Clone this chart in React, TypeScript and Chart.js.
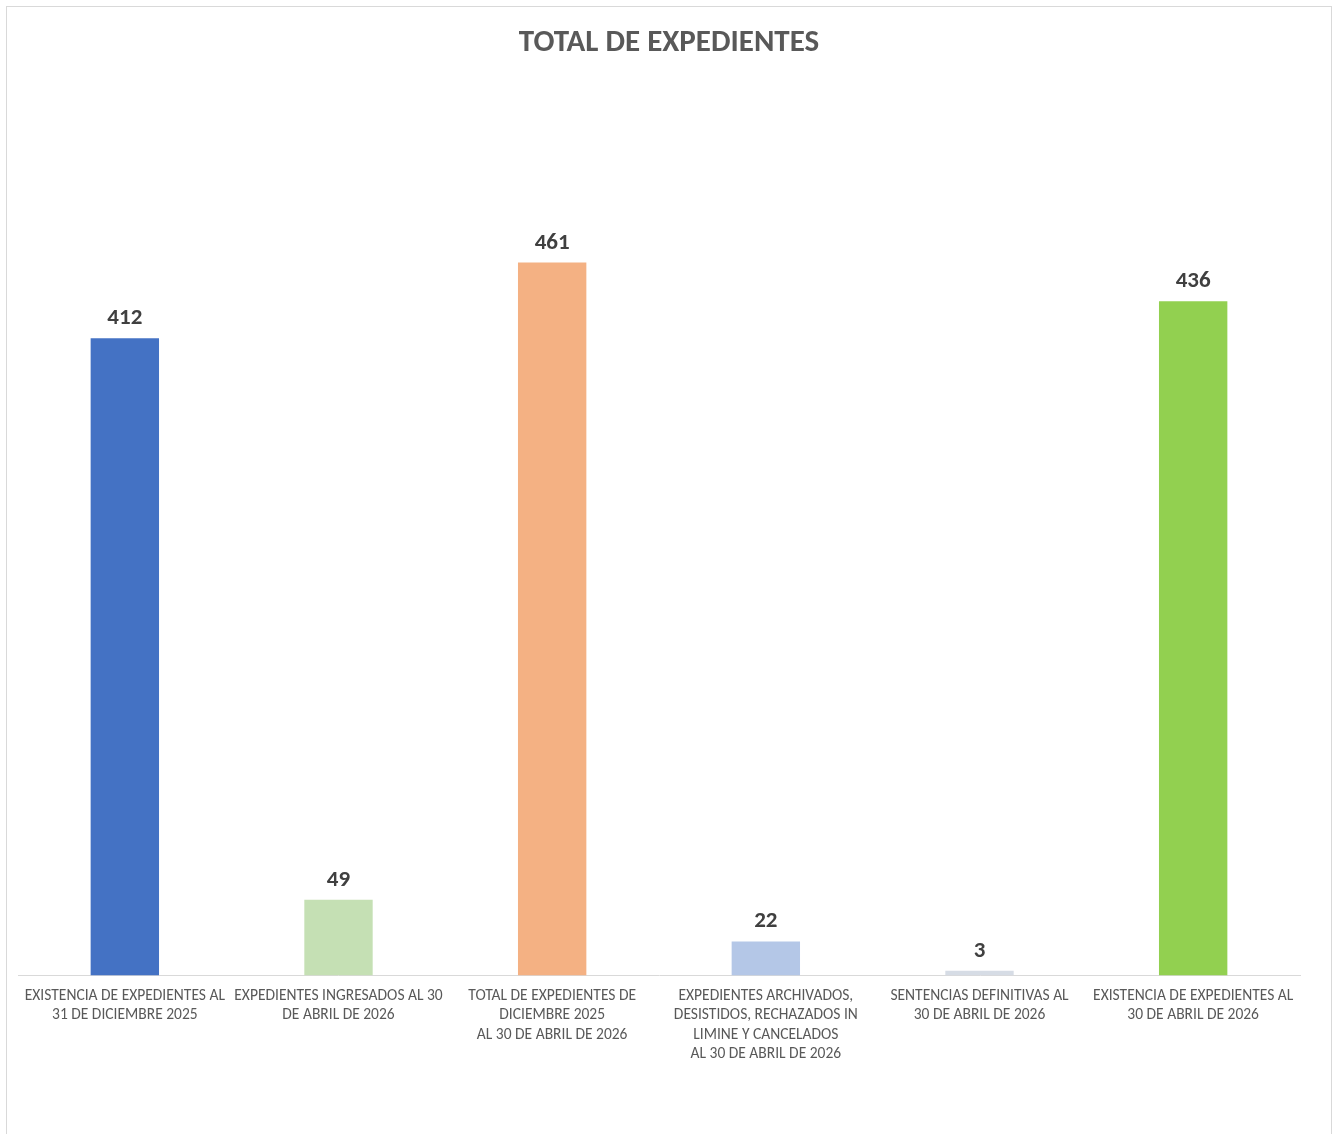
import React, { useEffect, useRef } from "react";
import { Chart, registerables } from "chart.js";

Chart.register(...registerables);

const categories: string[][] = [
  ["EXISTENCIA DE EXPEDIENTES AL", "31 DE DICIEMBRE 2025"],
  ["EXPEDIENTES INGRESADOS AL 30", "DE ABRIL DE 2026"],
  ["TOTAL DE EXPEDIENTES DE", "DICIEMBRE 2025", "AL 30 DE ABRIL DE 2026"],
  ["EXPEDIENTES ARCHIVADOS,", "DESISTIDOS, RECHAZADOS IN", "LIMINE Y CANCELADOS", "AL 30 DE ABRIL DE 2026"],
  ["SENTENCIAS DEFINITIVAS AL", "30 DE ABRIL DE 2026"],
  ["EXISTENCIA DE EXPEDIENTES AL", "30 DE ABRIL DE 2026"],
];
const values: number[] = [412, 49, 461, 22, 3, 436];
const barColors: string[] = ["#4472C4", "#C5E0B4", "#F4B183", "#B4C7E7", "#D6DCE5", "#92D050"];
const chartTitle = "TOTAL DE EXPEDIENTES";

const FONT = "Carlito, Lato, 'Open Sans', sans-serif";

const dataLabelPlugin = {
  id: "dataLabels",
  afterDatasetsDraw(chart: any) {
    const ctx = chart.ctx;
    const meta = chart.getDatasetMeta(0);
    ctx.save();
    ctx.font = `bold 23px ${FONT}`;
    ctx.fillStyle = "#404040";
    ctx.textAlign = "center";
    ctx.textBaseline = "alphabetic";
    meta.data.forEach((bar: any, i: number) => {
      const v = chart.data.datasets[0].data[i];
      ctx.fillText(String(v), bar.x, bar.y - 14);
    });
    ctx.restore();
  },
};

export default function App() {
  const ref = useRef<HTMLCanvasElement | null>(null);
  useEffect(() => {
    if (!ref.current) return;
    const chart = new Chart(ref.current, {
      type: "bar",
      data: {
        labels: categories,
        datasets: [
          {
            data: values,
            backgroundColor: barColors,
            borderWidth: 0,
            barPercentage: 0.64,
            categoryPercentage: 0.5,
          },
        ],
      },
      options: {
        animation: false,
        responsive: true,
        maintainAspectRatio: false,
        layout: { padding: { left: 11, right: 11, top: 0, bottom: 59 } },
        plugins: {
          legend: { display: false },
          tooltip: { enabled: false },
          title: {
            display: true,
            text: chartTitle,
            color: "#595959",
            font: { family: FONT, size: 31, weight: "bold" },
            padding: { top: 18, bottom: 140 },
          },
        },
        scales: {
          x: {
            grid: { display: false, drawTicks: false },
            border: { display: true, color: "#D9D9D9", width: 1 },
            ticks: {
              color: "#595959",
              font: { family: FONT, size: 15.5, lineHeight: 1.25 },
              padding: 11,
              autoSkip: false,
              maxRotation: 0,
              minRotation: 0,
            },
          },
          y: {
            display: false,
            min: 0,
            max: 500,
          },
          spacer: {
            type: "linear",
            position: "right",
            display: true,
            grid: { display: false, drawTicks: false },
            border: { display: false },
            ticks: { display: false },
            afterFit: (scale: any) => {
              scale.width = 20;
            },
          },
        },
      },
      plugins: [dataLabelPlugin],
    });
    return () => chart.destroy();
  }, []);

  return (
    <div
      style={{
        position: "absolute",
        left: 6,
        top: 6,
        width: 1324,
        height: 1140,
        border: "1px solid #D9D9D9",
        background: "#fff",
        overflow: "hidden",
      }}
    >
      <div style={{ position: "relative", width: 1324, height: 1127 }}>
        <canvas ref={ref} />
      </div>
    </div>
  );
}
